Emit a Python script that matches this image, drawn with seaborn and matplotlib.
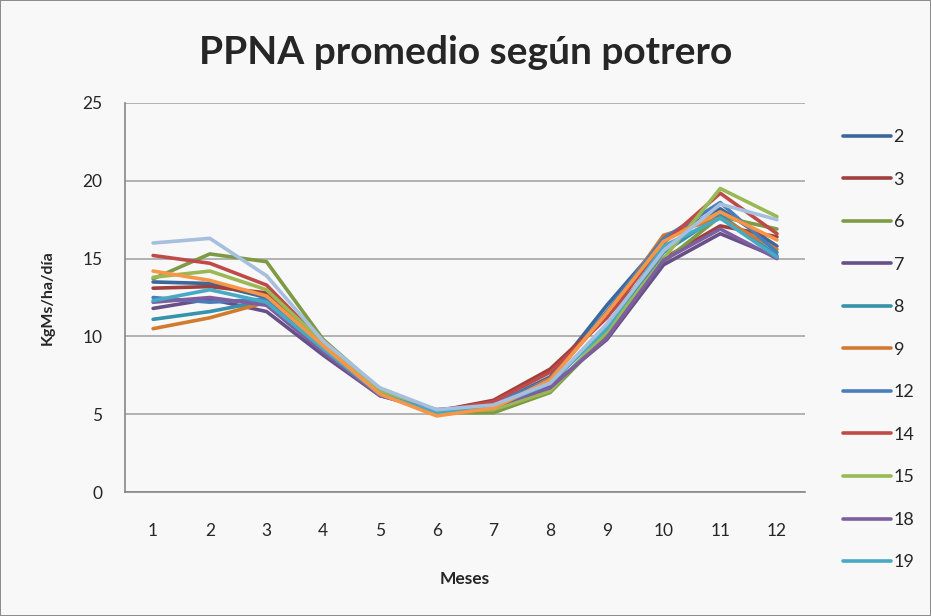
import numpy as np
import pandas as pd
import seaborn as sns
import matplotlib.pyplot as plt
from matplotlib.lines import Line2D

meses = list(range(1, 13))

# PPNA (KgMs/ha/dia) por potrero, meses 1..12
p2 = [13.5, 13.4, 12.5, 9.4, 6.4, 5.2, 5.6, 7.4, 12.0, 16.2, 18.2, 15.8]
p3 = [13.1, 13.2, 12.8, 9.5, 6.3, 5.2, 5.9, 7.9, 11.3, 15.0, 17.1, 16.4]
p6 = [13.7, 15.3, 14.8, 9.8, 6.6, 5.1, 5.1, 6.4, 10.1, 14.8, 17.7, 16.9]
p7 = [11.8, 12.4, 11.6, 8.8, 6.2, 5.3, 5.6, 6.8, 9.8, 14.6, 16.6, 15.1]
p8 = [11.1, 11.6, 12.3, 9.2, 6.3, 5.1, 5.4, 7.0, 10.6, 15.4, 17.8, 15.2]
p9 = [10.5, 11.2, 12.2, 9.3, 6.3, 5.0, 5.5, 7.3, 11.4, 16.5, 17.6, 15.6]
p12 = [12.5, 12.2, 12.4, 9.3, 6.4, 5.2, 5.7, 7.2, 11.6, 16.3, 18.6, 15.4]
p14 = [15.2, 14.7, 13.3, 9.6, 6.5, 5.2, 5.8, 7.7, 11.2, 16.0, 19.2, 16.6]
p15 = [13.8, 14.2, 13.0, 9.6, 6.5, 5.2, 5.3, 6.5, 10.3, 15.0, 19.5, 17.7]
p18 = [12.2, 12.5, 12.0, 9.0, 6.2, 5.2, 5.5, 6.7, 9.9, 14.9, 16.9, 15.0]
p19 = [12.3, 13.0, 12.2, 9.2, 6.3, 5.1, 5.5, 7.0, 10.5, 15.8, 17.6, 15.1]
# dos series mas que no entran en la leyenda
p20 = [14.2, 13.6, 12.6, 9.4, 6.3, 4.9, 5.4, 7.2, 11.5, 16.1, 18.0, 16.2]
p21 = [16.0, 16.3, 13.9, 9.7, 6.7, 5.3, 5.6, 7.0, 10.8, 15.5, 18.5, 17.5]

potreros = ['2', '3', '6', '7', '8', '9', '12', '14', '15', '18', '19', '20', '21']
valores = [p2, p3, p6, p7, p8, p9, p12, p14, p15, p18, p19, p20, p21]
colores = ['#3A679C', '#A0403D', '#7E9A45', '#674F88', '#3792AB', '#D27B2E',
           '#4A7EBB', '#BE4B48', '#98B954', '#7D5FA0', '#46AAC5', '#F79646', '#A7BFDE']
en_leyenda = 11

df = pd.DataFrame([(pt, m, v) for pt, vals in zip(potreros, valores) for m, v in zip(meses, vals)],
                  columns=['potrero', 'mes', 'ppna'])

sns.set_style('white')
plt.rcParams['font.family'] = ['Lato', 'DejaVu Sans']

fig = plt.figure(figsize=(9.31, 6.16), dpi=100)
fig.patch.set_facecolor('#F8F8F8')
fig.patch.set_edgecolor('#8C8C8C')
fig.patch.set_linewidth(1.2)
ax = fig.add_axes([0.134, 0.201, 0.731, 0.632])
ax.set_facecolor('#F8F8F8')

sns.lineplot(data=df, x='mes', y='ppna', hue='potrero', hue_order=potreros,
             palette=dict(zip(potreros, colores)), lw=2.6, legend=False, ax=ax)

ax.set_xlim(0.5, 12.5)
ax.set_ylim(0, 25)
ax.set_yticks(range(0, 26, 5))
ax.set_xticks(meses)
ax.set_xticks(np.arange(0.5, 13, 1), minor=True)
ax.tick_params(axis='x', which='major', length=0, pad=22, labelsize=12.5)
ax.tick_params(axis='x', which='minor', length=6, width=1, color='#868686', direction='out')
ax.tick_params(axis='y', length=6, width=1, color='#868686', direction='out', pad=10, labelsize=12.5)
ax.yaxis.grid(True, color='#A6A6A6', lw=1.2)
for s in ['top', 'right']:
    ax.spines[s].set_visible(False)
for s in ['left', 'bottom']:
    ax.spines[s].set_color('#868686')
    ax.spines[s].set_linewidth(1.2)
ax.set_axisbelow(True)

ax.set_xlabel('Meses', fontsize=12.5, fontweight='bold', labelpad=23)
ax.set_ylabel('KgMs/ha/día', fontsize=11.5, fontweight='bold', labelpad=20)
fig.text(0.5, 0.915, 'PPNA promedio según potrero', ha='center', va='center',
         fontsize=28, fontweight='bold')

handles = [Line2D([], [], color=c, lw=2.6) for c in colores[:en_leyenda]]
fig.legend(handles, potreros[:en_leyenda], loc='upper left', bbox_to_anchor=(0.888, 0.817),
           frameon=False, fontsize=13, handlelength=2.65, handletextpad=0.15,
           labelspacing=1.47)

fig.savefig('out.png', dpi=100, facecolor=fig.get_facecolor(), edgecolor=fig.get_edgecolor())
